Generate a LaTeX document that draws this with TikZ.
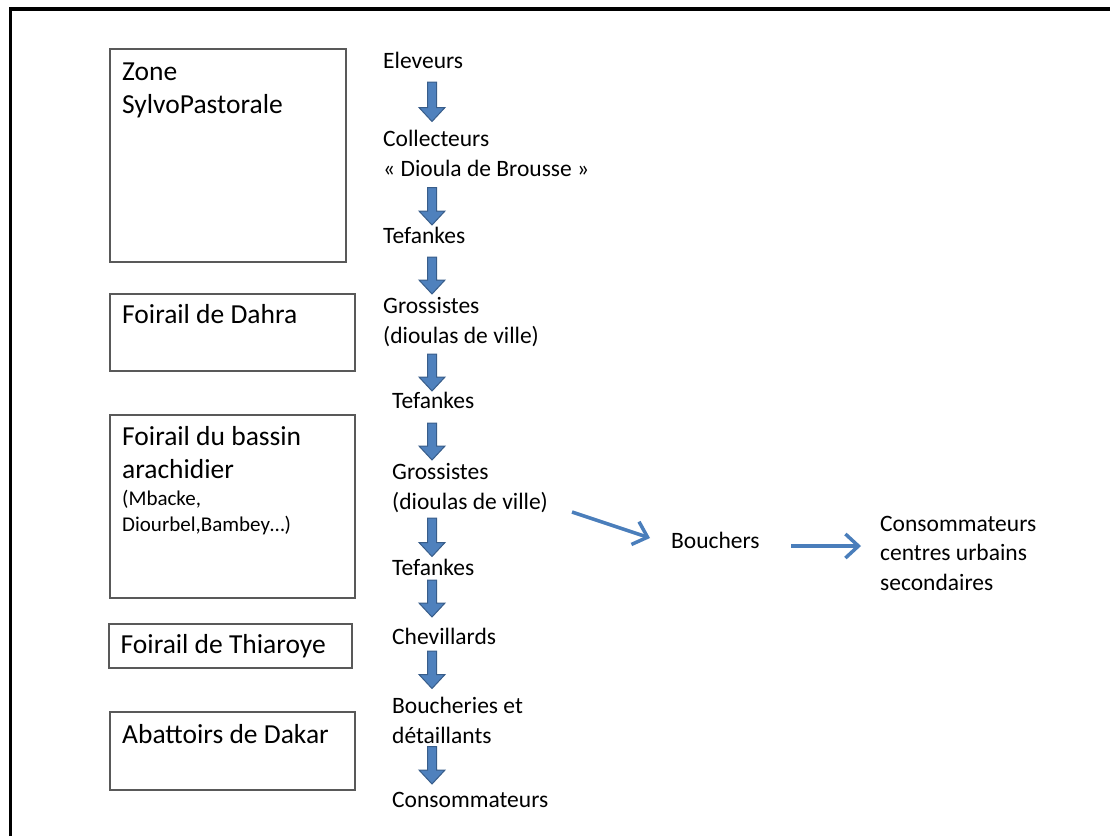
\documentclass[tikz,border=0pt]{standalone}
\usepackage{fontspec}
\setmainfont{Carlito}
\usetikzlibrary{arrows.meta}
\definecolor{arrowfill}{HTML}{4F81BD}
\definecolor{arrowedge}{HTML}{385D8A}
\definecolor{linkblue}{HTML}{4A7EBB}
\definecolor{boxedge}{HTML}{595959}
% block arrow pointing down: #1 = x, #2 = top of shaft, #3 = tip
\newcommand{\flowarrow}[3]{%
  \filldraw[blockarrow] (#1-4.5,#2) -- (#1+4.5,#2) -- (#1+4.5,#3-14)
    -- (#1+13,#3-14) -- (#1,#3) -- (#1-13,#3-14) -- (#1-4.5,#3-14) -- cycle;}
\begin{document}
\begin{tikzpicture}[x=1pt,y=-1pt,
  zonebox/.style={draw=boxedge, line width=1.4pt},
  % base anchor of a multi-line node sits on its last line
  title/.style={anchor=base west, inner sep=0pt, align=left,
    font=\fontsize{27.5}{33}\selectfont},
  small/.style={anchor=base west, inner sep=0pt, align=left,
    font=\fontsize{21}{26}\selectfont},
  actor/.style={anchor=base west, inner sep=0pt, align=left,
    font=\fontsize{23.5}{29.7}\selectfont},
  blockarrow/.style={fill=arrowfill, draw=arrowedge, line width=1pt},
  link/.style={draw=linkblue, line width=3.5pt,
    -{Straight Barb[length=13pt,width=24pt]}}]
\useasboundingbox (0,0) rectangle (1110,836);

% page frame (top and left edges only)
\draw[line width=3.4pt] (10.3,836) -- (10.3,9) -- (1110,9);

% places along the chain
\draw[zonebox] (110,49) rectangle (346,262);
\draw[zonebox] (110,294) rectangle (355,371);
\draw[zonebox] (110,415) rectangle (355,598);
\draw[zonebox] (109,624) rectangle (352,668);
\draw[zonebox] (110,712) rectangle (355,790);

\node[title] (zsp) at (122,113) {Zone\\SylvoPastorale};
\node[title] (dahra) at (122,323) {Foirail de Dahra};
\node[title] (bassin) at (122,478.5) {Foirail du bassin\\arachidier};
\node[small] (villes) at (122,531) {(Mbacke,\\Diourbel,Bambey…)};
\node[title] (thiaroye) at (120.5,653) {Foirail de Thiaroye};
\node[title] (abattoirs) at (122,743) {Abattoirs de Dakar};

% actors of the chain
\node[actor] (eleveurs) at (383,68.5) {Eleveurs};
\node[actor] (collecteurs) at (383,176.5) {Collecteurs\\« Dioula de Brousse »};
\node[actor] (tef1) at (383,243.5) {Tefankes};
\node[actor] (gros1) at (383,343) {Grossistes\\(dioulas de ville)};
\node[actor] (tef2) at (392,408.5) {Tefankes};
\node[actor] (gros2) at (392,509) {Grossistes\\(dioulas de ville)};
\node[actor] (tef3) at (392,575) {Tefankes};
\node[actor] (chev) at (392,644) {Chevillards};
\node[actor] (boucheries) at (392,743) {Boucheries et\\détaillants};
\node[actor] (conso) at (392,807) {Consommateurs};
\node[actor] (bouchers) at (671,548.5) {Bouchers};
\node[actor] (consurb) at (880,590.5) {Consommateurs\\centres urbains\\secondaires};

% flow between actors
\flowarrow{432}{82}{121.5}
\flowarrow{432}{187.5}{225}
\flowarrow{432}{257}{294}
\flowarrow{432}{354}{391}
\flowarrow{432}{423}{460}
\flowarrow{432}{518}{556.5}
\flowarrow{432}{580}{617}
\flowarrow{432}{651}{688.5}
\flowarrow{432}{746.5}{784}

\coordinate (b1s) at (572,512);
\coordinate (b1e) at (650,538);
\coordinate (b2s) at (791,546);
\coordinate (b2e) at (861,546);
\draw[link] (b1s) -- (b1e);
\draw[link] (b2s) -- (b2e);
\end{tikzpicture}
\end{document}
